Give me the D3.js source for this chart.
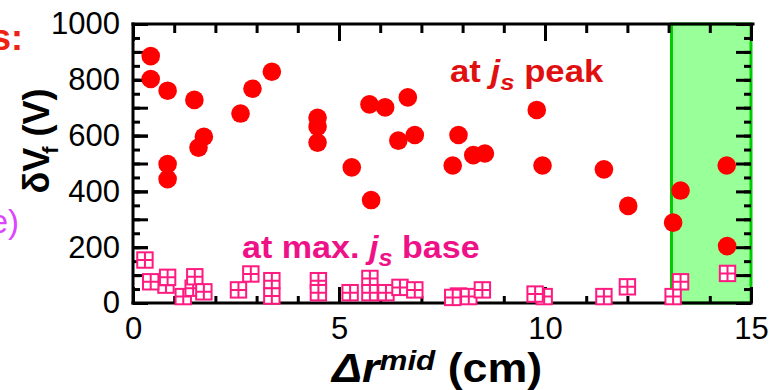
<!DOCTYPE html>
<html><head><meta charset="utf-8">
<script src="https://cdn.jsdelivr.net/npm/d3@7"></script>
<style>
html,body{margin:0;padding:0;background:#fff;}
svg{display:block;font-family:"Liberation Sans",Arial,sans-serif;}
</style></head>
<body>
<svg id="chart" width="770" height="390"></svg>
<script>
// ---- data ----
const peakX = [0.43,0.43,0.84,1.49,0.84,0.84,1.72,1.59,2.61,2.90,3.37,4.48,4.48,4.48,5.31,5.78,5.74,6.12,6.67,6.44,6.84,7.76,7.90,8.26,8.54,9.80,9.94,11.43,12.02,13.11,13.29,14.41,14.42];
const peakY = [885,803,761,728,498,444,596,557,679,768,829,664,632,575,486,369,712,701,737,582,602,493,602,530,536,692,493,479,348,288,403,493,204];
const baseX = [0.80,0.29,0.43,0.84,1.22,1.46,1.50,1.72,2.56,2.86,3.37,3.37,4.50,4.50,5.27,5.75,5.75,6.14,6.48,6.84,7.90,7.76,8.15,8.48,9.98,9.76,11.43,12.00,13.11,13.29,14.43];
const baseY = [64,154,76,92,23,53,94,40,47,104,80,25,80,37,37,88,37,37,56,47,25,20,23,47,23,32,23,58,23,76,106];
const xMajorTicks = [0,5,10,15];
const xMinorTicks = d3.range(0,16,1);
const yMajorTicks = [0,200,400,600,800,1000];
const yMidTicks = d3.range(0,1001,100);
const yMinorTicks = d3.range(0,1001,50);
const shadedRange = [13.07,15];

// ---- layout ----
const svg = d3.select("#chart");
const L=133, R=751, T=24, B=303;
const x = d3.scaleLinear().domain([0,15]).range([L,R]);
const y = d3.scaleLinear().domain([0,1000]).range([B,T]);
const red = "#ff0000", pink = "#ff1a80";

// fragments of neighbouring panels (cut at the left edge, as in the reference)
svg.append("text").attr("x",23).attr("y",50).attr("text-anchor","end")
  .attr("font-size",36).attr("font-weight","bold").attr("fill","#ee2211").text("s:");
svg.append("text").attr("x",19).attr("y",233).attr("text-anchor","end")
  .attr("font-size",33).attr("fill","#dd44ff").text("e)");

// shaded region
svg.append("rect")
  .attr("x",x(shadedRange[0])).attr("y",y(1000))
  .attr("width",x(shadedRange[1])-x(shadedRange[0])).attr("height",y(0)-y(1000))
  .attr("fill","#99ff99").attr("stroke","#00cc00").attr("stroke-width",3);

// axes with inward ticks
function styleAxis(g){
  g.select(".domain").remove();
  g.selectAll(".tick line").attr("stroke","#000").attr("stroke-width",3);
  g.selectAll(".tick text").attr("font-size",31).attr("fill","#000");
}
svg.append("g").attr("transform",`translate(0,${B})`)
  .call(d3.axisBottom(x).tickValues(xMinorTicks).tickSize(-7).tickFormat("")).call(styleAxis);
svg.append("g").attr("transform",`translate(0,${B})`)
  .call(d3.axisBottom(x).tickValues(xMajorTicks).tickSize(-16).tickPadding(14).tickFormat(d3.format("d"))).call(styleAxis);
svg.append("g").attr("transform",`translate(0,${T})`)
  .call(d3.axisTop(x).tickValues(xMinorTicks).tickSize(-9).tickFormat("")).call(styleAxis);
svg.append("g").attr("transform",`translate(0,${T})`)
  .call(d3.axisTop(x).tickValues(xMajorTicks).tickSize(-17).tickFormat("")).call(styleAxis);
svg.append("g").attr("transform",`translate(${L},0)`)
  .call(d3.axisLeft(y).tickValues(yMinorTicks).tickSize(-7).tickFormat("")).call(styleAxis);
svg.append("g").attr("transform",`translate(${L},0)`)
  .call(d3.axisLeft(y).tickValues(yMidTicks).tickSize(-15).tickFormat("")).call(styleAxis);
svg.append("g").attr("transform",`translate(${L},0)`)
  .call(d3.axisLeft(y).tickValues(yMajorTicks).tickSize(-15).tickPadding(13).tickFormat(d3.format("d"))).call(styleAxis);
svg.append("g").attr("transform",`translate(${R},0)`)
  .call(d3.axisRight(y).tickValues(yMinorTicks).tickSize(-7).tickFormat("")).call(styleAxis);
svg.append("g").attr("transform",`translate(${R},0)`)
  .call(d3.axisRight(y).tickValues(yMidTicks).tickSize(-15).tickFormat("")).call(styleAxis);

// frame (right edge is the green border of the shaded band)
const frame = svg.append("g").attr("stroke","#000").attr("stroke-width",3).attr("stroke-linecap","square");
frame.append("line").attr("x1",L).attr("x2",R+2).attr("y1",T).attr("y2",T);
frame.append("line").attr("x1",L).attr("x2",R).attr("y1",B).attr("y2",B);
frame.append("line").attr("x1",L).attr("x2",L).attr("y1",T).attr("y2",B);

// peak points
svg.append("g").selectAll("circle").data(peakX.map((d,i)=>[d,peakY[i]])).join("circle")
  .attr("cx",d=>x(d[0])).attr("cy",d=>y(d[1])).attr("r",9.3).attr("fill",red);

// base points: boxed-plus squares with white fill
const s = 7.7;
const sq = svg.append("g").selectAll("g").data(baseX.map((d,i)=>[d,baseY[i]])).join("g")
  .attr("transform",d=>`translate(${x(d[0])},${y(d[1])})`);
sq.append("rect").attr("x",-s).attr("y",-s).attr("width",2*s).attr("height",2*s)
  .attr("fill","#fff").attr("stroke",pink).attr("stroke-width",2);
sq.append("path").attr("d",`M${-s},0H${s}M0,${-s}V${s}`).attr("stroke",pink).attr("stroke-width",2);

// annotations (glyphs are drawn slightly wide in the reference)
const t1 = svg.append("text").attr("transform","translate(450,82) scale(1.12,1)").attr("font-size",31)
  .attr("font-weight","bold").attr("fill","#e01010");
t1.append("tspan").text("at ");
t1.append("tspan").attr("font-style","italic").text("j");
t1.append("tspan").attr("font-style","italic").attr("font-size",23).attr("dy",8).text("s");
t1.append("tspan").attr("dy",-8).text(" peak");

const t2 = svg.append("text").attr("transform","translate(242,258) scale(1.1,1)").attr("font-size",31)
  .attr("font-weight","bold").attr("fill","#ee1188");
t2.append("tspan").text("at max. ");
t2.append("tspan").attr("font-style","italic").text("j");
t2.append("tspan").attr("font-style","italic").attr("font-size",23).attr("dy",8).text("s");
t2.append("tspan").attr("dy",-8).text(" base");

// axis titles
const xt = svg.append("text").attr("transform","translate(332,382) scale(1.12,1)").attr("font-size",40)
  .attr("font-weight","bold").attr("fill","#000");
xt.append("tspan").attr("font-style","italic").text("Δr");
xt.append("tspan").attr("font-style","italic").attr("font-size",28).attr("dy",-12).text("mid");
xt.append("tspan").attr("dy",12).text(" (cm)");

const yt = svg.append("text").attr("transform","translate(49,141) rotate(-90)")
  .attr("text-anchor","middle").attr("font-size",36).attr("font-weight","bold").attr("fill","#000");
yt.append("tspan").text("δV");
yt.append("tspan").attr("font-size",22).attr("dy",9).attr("dx",-6).text("f");
yt.append("tspan").attr("dy",-9).text(" (V)");
</script>
</body></html>
